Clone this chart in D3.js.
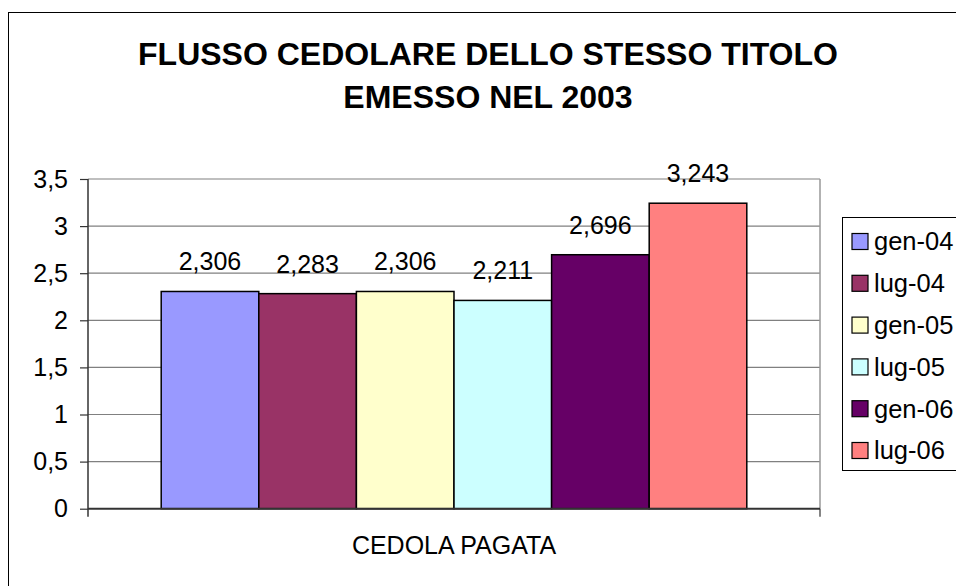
<!DOCTYPE html>
<html>
<head>
<meta charset="utf-8">
<script src="https://cdn.jsdelivr.net/npm/d3@7"></script>
<style>
  body { margin: 0; background: #fff; }
  svg { display: block; font-family: Arial, "Liberation Sans", sans-serif; }
</style>
</head>
<body>
<svg id="chart" width="956" height="586"></svg>
<script>
const titleLines = ["FLUSSO CEDOLARE DELLO STESSO TITOLO", "EMESSO NEL 2003"];
const categories = ["CEDOLA PAGATA"];
const seriesNames = ["gen-04", "lug-04", "gen-05", "lug-05", "gen-06", "lug-06"];
const seriesValues = [2.306, 2.283, 2.306, 2.211, 2.696, 3.243];
const seriesLabels = ["2,306", "2,283", "2,306", "2,211", "2,696", "3,243"];
const yTicks = [0, 0.5, 1, 1.5, 2, 2.5, 3, 3.5];
const yTickLabels = ["0", "0,5", "1", "1,5", "2", "2,5", "3", "3,5"];
const colors = ["#9999FF", "#993366", "#FFFFCC", "#CCFFFF", "#660066", "#FF8080"];

const svg = d3.select("#chart");
const plot = { left: 88, right: 820, top: 179, bottom: 508.7 };

// outer border (extends past the window on right and bottom)
svg.append("rect").attr("x", 8.5).attr("y", 12.5).attr("width", 1000).attr("height", 1000)
  .attr("fill", "#fff").attr("stroke", "#000").attr("stroke-width", 1);

// title
svg.append("g").selectAll("text").data(titleLines).join("text")
  .attr("x", 488).attr("y", (d, i) => 65 + i * 43)
  .attr("text-anchor", "middle").attr("font-weight", "bold").attr("font-size", 32)
  .attr("fill", "#000").text(d => d);

const y = d3.scaleLinear().domain([0, 3.5]).range([plot.bottom, plot.top]);
const x0 = d3.scaleBand().domain(categories).range([plot.left, plot.right])
  .paddingInner(0).paddingOuter(0.125);
const x1 = d3.scaleBand().domain(seriesNames).range([0, x0.bandwidth()]).padding(0);

// gridlines
svg.append("g").selectAll("line").data(yTicks.filter(t => t > 0)).join("line")
  .attr("x1", plot.left).attr("x2", plot.right)
  .attr("y1", d => y(d)).attr("y2", d => y(d))
  .attr("stroke", "#808080").attr("stroke-width", 1.2);

// plot border right
svg.append("line").attr("x1", plot.right).attr("x2", plot.right)
  .attr("y1", plot.top).attr("y2", plot.bottom)
  .attr("stroke", "#999").attr("stroke-width", 1.5);

// bars
const g = svg.append("g").attr("transform", `translate(${x0(categories[0])},0)`);
g.selectAll("rect").data(seriesValues).join("rect")
  .attr("x", (d, i) => x1(seriesNames[i]))
  .attr("y", d => y(d))
  .attr("width", x1.bandwidth())
  .attr("height", d => y(0) - y(d))
  .attr("fill", (d, i) => colors[i])
  .attr("stroke", "#000").attr("stroke-width", 1.5);

// data labels
g.selectAll("text").data(seriesValues).join("text")
  .attr("x", (d, i) => x1(seriesNames[i]) + x1.bandwidth() / 2)
  .attr("y", d => y(d) - 21)
  .attr("text-anchor", "middle").attr("font-size", 25).attr("fill", "#000")
  .text((d, i) => seriesLabels[i]);

// y axis
const yAxis = d3.axisLeft(y).tickValues(yTicks).tickSize(8).tickPadding(12)
  .tickFormat((d, i) => yTickLabels[i]);
const ya = svg.append("g").attr("transform", `translate(${plot.left},0)`).call(yAxis);
ya.select(".domain").attr("stroke", "#333").attr("stroke-width", 1.5).attr("d", `M0,${plot.top}V${plot.bottom + 8}`);
ya.selectAll(".tick line").attr("stroke", "#333").attr("stroke-width", 1.2);
ya.selectAll(".tick text").attr("font-size", 25).attr("fill", "#000")
  .attr("font-family", "Arial, 'Liberation Sans', sans-serif");

// x axis
const xAxis = d3.axisBottom(x0).tickSize(0).tickPadding(0);
const xa = svg.append("g").attr("transform", `translate(0,${plot.bottom})`).call(xAxis);
xa.select(".domain").attr("stroke", "#333").attr("stroke-width", 2)
  .attr("d", `M${plot.left},0H${plot.right}`);
xa.selectAll(".tick text").attr("font-size", 25).attr("fill", "#000")
  .attr("dy", 0).attr("y", 45)
  .attr("font-family", "Arial, 'Liberation Sans', sans-serif");
xa.append("line").attr("x1", plot.right).attr("x2", plot.right).attr("y1", 0).attr("y2", 8)
  .attr("stroke", "#333").attr("stroke-width", 1.2);

// legend
const legend = svg.append("g");
legend.append("rect").attr("x", 842.5).attr("y", 217.5).attr("width", 200).attr("height", 253)
  .attr("fill", "#fff").attr("stroke", "#000").attr("stroke-width", 1);
const items = legend.selectAll("g.item").data(seriesNames).join("g").attr("class", "item")
  .attr("transform", (d, i) => `translate(852,${241.5 + i * 41.8})`);
items.append("rect").attr("x", 0).attr("y", -8).attr("width", 16).attr("height", 16)
  .attr("fill", (d, i) => colors[i]).attr("stroke", "#000").attr("stroke-width", 1.2);
items.append("text").attr("x", 22).attr("y", 0).attr("dy", "0.35em")
  .attr("font-size", 25.5).attr("fill", "#000").text(d => d);
</script>
</body>
</html>
